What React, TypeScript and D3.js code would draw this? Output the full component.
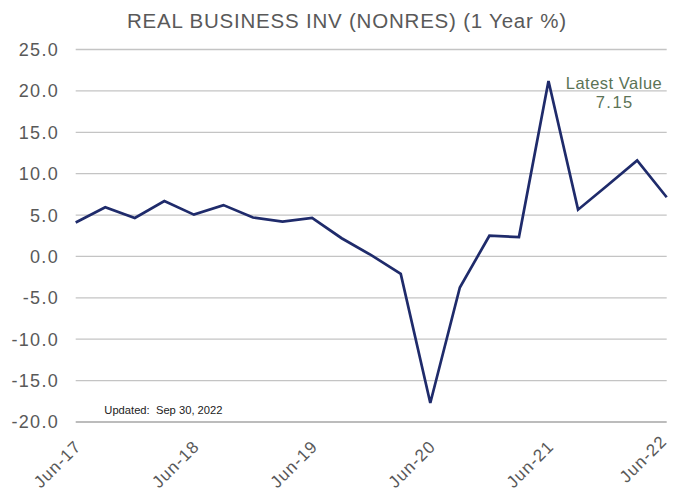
import React from "react";
import * as d3 from "d3";

const periods: string[] = [
  "Jun-17", "Sep-17", "Dec-17", "Mar-18", "Jun-18", "Sep-18", "Dec-18",
  "Mar-19", "Jun-19", "Sep-19", "Dec-19", "Mar-20", "Jun-20", "Sep-20",
  "Dec-20", "Mar-21", "Jun-21", "Sep-21", "Dec-21", "Mar-22", "Jun-22",
];
const values: number[] = [
  4.1, 5.95, 4.65, 6.7, 5.05, 6.2, 4.7,
  4.2, 4.65, 2.2, 0.15, -2.1, -17.7, -3.75,
  2.5, 2.35, 21.2, 5.65, 8.6, 11.6, 7.15,
];
const yTicks: number[] = [25, 20, 15, 10, 5, 0, -5, -10, -15, -20];
const xTickLabels: string[] = ["Jun-17", "Jun-18", "Jun-19", "Jun-20", "Jun-21", "Jun-22"];
const title = "REAL BUSINESS INV (NONRES) (1 Year %)";
const latestLabel = "Latest Value";
const latestValue = "7.15";
const updatedText = "Updated:  Sep 30, 2022";

const W = 673;
const H = 492;
const left = 75.7;
const right = 666.7;
const top = 49.5;
const bottom = 422;
const FONT = "'Liberation Sans', Arial, sans-serif";

export default function App() {
  const x = d3.scalePoint<string>().domain(periods).range([left, right]);
  const y = d3.scaleLinear().domain([-20, 25]).range([bottom, top]);
  const line = d3
    .line<number>()
    .x((_, i) => x(periods[i]) as number)
    .y((d) => y(d));

  return (
    <svg
      width={W}
      height={H}
      style={{ position: "absolute", left: 0, top: 0, background: "#fff" }}
    >
      <text
        x={127}
        y={28.3}
        textLength={439}
        lengthAdjust="spacing"
        fontFamily={FONT}
        fontSize={20.5}
        fill="#595959"
      >
        {title}
      </text>
      {yTicks.map((t) => (
        <g key={t}>
          <line
            x1={left}
            x2={right}
            y1={y(t)}
            y2={y(t)}
            stroke={t === -20 ? "#a6a6a6" : "#c4c4c4"}
            strokeWidth={1.3}
          />
          <text
            x={59}
            y={y(t)}
            dy="0.36em"
            textAnchor="end"
            fontFamily={FONT}
            fontSize={18}
            letterSpacing={1.3}
            fill="#595959"
          >
            {t.toFixed(1)}
          </text>
        </g>
      ))}
      <path
        d={line(values) || ""}
        fill="none"
        stroke="#1f2b6b"
        strokeWidth={2.7}
        strokeLinejoin="miter"
      />
      {xTickLabels.map((lab) => {
        const px = x(lab) as number;
        const ax = Math.min(px + 6.5, W - 5);
        const ay = 447.5 - (px + 6.5 - ax);
        return (
          <text
            key={lab}
            transform={`translate(${ax},${ay}) rotate(-45)`}
            textAnchor="end"
            fontFamily={FONT}
            fontSize={17}
            letterSpacing={1.1}
            fill="#595959"
          >
            {lab}
          </text>
        );
      })}
      <text
        x={614}
        y={89.3}
        textAnchor="middle"
        fontFamily={FONT}
        fontSize={16.5}
        letterSpacing={0.5}
        fill="#5b7355"
      >
        {latestLabel}
      </text>
      <text
        x={614.7}
        y={107.7}
        textAnchor="middle"
        fontFamily={FONT}
        fontSize={16.5}
        letterSpacing={1.5}
        fill="#5b7355"
      >
        {latestValue}
      </text>
      <text
        x={104.3}
        y={414}
        fontFamily={FONT}
        fontSize={11.2}
        fill="#222"
        style={{ whiteSpace: "pre" }}
      >
        {updatedText}
      </text>
    </svg>
  );
}
